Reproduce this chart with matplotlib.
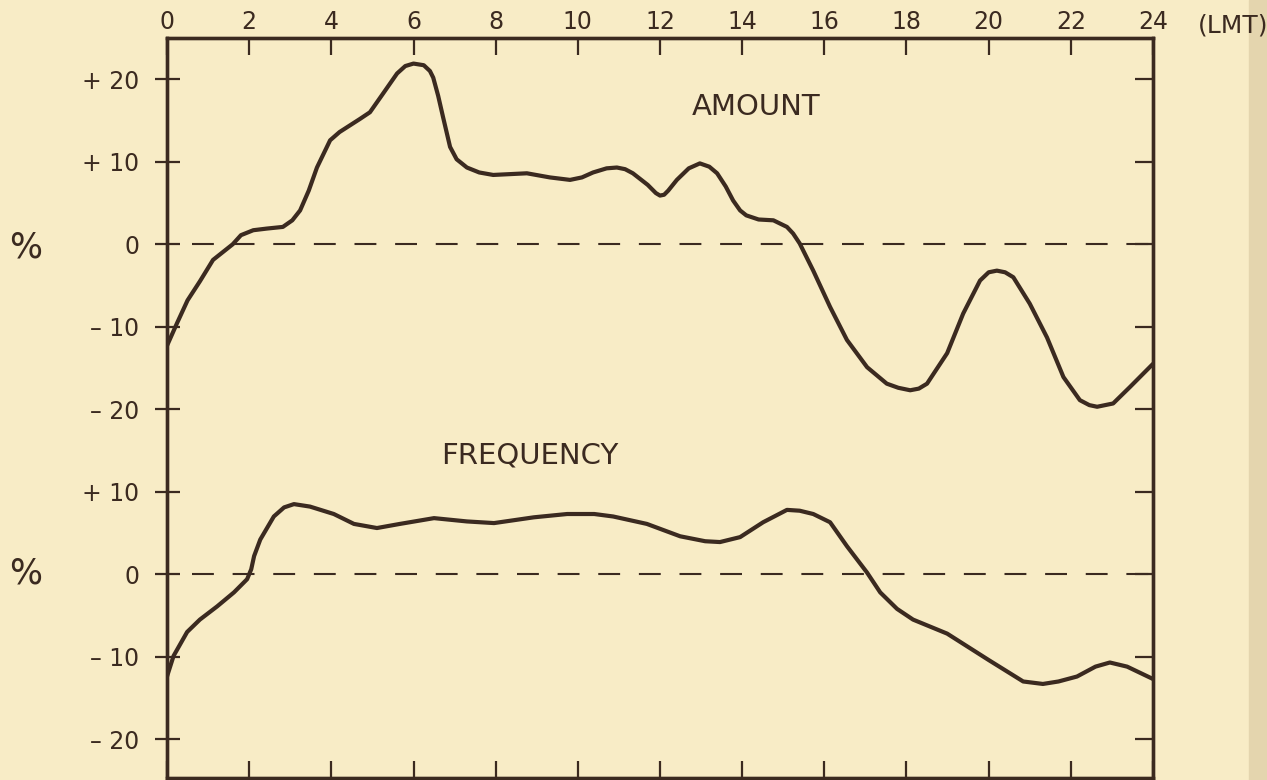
import matplotlib
matplotlib.use('Agg')
import matplotlib.pyplot as plt
from matplotlib.patches import Rectangle

# diurnal variation (hour LMT, % departure)
amount_hours = [0.0, 0.25, 0.5, 0.8, 1.12, 1.6, 1.8, 2.1, 2.43, 2.82, 3.05,
                3.24, 3.45, 3.65, 3.97, 4.2, 4.45, 4.7, 4.94, 5.25, 5.6, 5.8,
                6.0, 6.25, 6.4, 6.48, 6.6, 6.72, 6.89, 7.05, 7.3, 7.6, 7.94,
                8.35, 8.76, 9.32, 9.81, 10.1, 10.37, 10.7, 10.95, 11.15, 11.34,
                11.7, 11.9, 12.0, 12.1, 12.2, 12.41, 12.7, 12.97, 13.2, 13.39,
                13.6, 13.78, 13.95, 14.1, 14.4, 14.76, 15.09, 15.24, 15.4,
                15.73, 16.14, 16.55, 17.04, 17.52, 17.8, 18.09, 18.3, 18.5,
                18.99, 19.38, 19.79, 20.0, 20.2, 20.4, 20.6, 21.0, 21.42,
                21.82, 22.22, 22.45, 22.64, 23.03, 23.44, 24.0]
amount_pct = [-12.3, -9.5, -6.8, -4.5, -1.9, 0.0, 1.1, 1.7, 1.9, 2.1, 2.9,
              4.1, 6.5, 9.3, 12.6, 13.6, 14.4, 15.2, 16.0, 18.2, 20.7, 21.6,
              21.9, 21.7, 21.0, 20.2, 18.0, 15.4, 11.8, 10.3, 9.3, 8.7, 8.4,
              8.5, 8.6, 8.1, 7.8, 8.1, 8.7, 9.2, 9.3, 9.1, 8.6,
              7.2, 6.2, 5.9, 6.0, 6.5, 7.8, 9.2, 9.8, 9.4, 8.6,
              7.0, 5.3, 4.1, 3.5, 3.0, 2.9, 2.1, 1.3, 0.1,
              -3.2, -7.6, -11.6, -14.9, -16.9, -17.4, -17.7, -17.5, -16.9,
              -13.2, -8.4, -4.4, -3.4, -3.2, -3.4, -4.0, -7.2, -11.3,
              -16.1, -18.9, -19.5, -19.7, -19.3, -17.3, -14.5]

freq_hours = [0.0, 0.16, 0.49, 0.8, 1.22, 1.63, 1.95, 2.05, 2.12, 2.27, 2.6,
              2.85, 3.09, 3.48, 4.06, 4.55, 5.11, 5.67, 6.5, 7.3, 7.96, 8.93,
              9.74, 10.4, 10.86, 11.68, 12.49, 13.1, 13.46, 13.95, 14.51,
              15.09, 15.4, 15.73, 16.14, 16.55, 17.04, 17.36, 17.77, 18.16,
              18.99, 20.0, 20.84, 21.32, 21.7, 22.15, 22.6, 22.95, 23.37, 24.0]
freq_pct = [-12.4, -9.9, -7.0, -5.5, -3.9, -2.2, -0.6, 0.6, 2.2, 4.2, 7.0,
            8.1, 8.5, 8.2, 7.3, 6.1, 5.6, 6.1, 6.8, 6.4, 6.2, 6.9,
            7.3, 7.3, 7.0, 6.1, 4.6, 4.0, 3.9, 4.5, 6.3,
            7.8, 7.7, 7.3, 6.3, 3.4, 0.2, -2.2, -4.2, -5.5,
            -7.2, -10.4, -13.0, -13.3, -13.0, -12.4, -11.2, -10.7, -11.2, -12.7]

hour_ticks = list(range(0, 25, 2))
upper_ticks = [20, 10, 0, -10, -20]
upper_labels = ['+20', '+10', '0', '-10', '-20']
lower_ticks = [10, 0, -10, -20]
lower_labels = ['+10', '0', '-10', '-20']

LOWER_SHIFT = -40   # frequency panel drawn 40 units below amount panel
INK = '#3b2a20'
PAPER = '#f8ecc6'


def main():
    plt.rc('font', family='DejaVu Sans', size=17)

    fig = plt.figure(figsize=(12.67, 7.8), dpi=100, facecolor=PAPER)
    fig.patches.append(Rectangle((1249 / 1267, 0), 18 / 1267, 1,
                                 transform=fig.transFigure,
                                 color='#e4d5ae', zorder=0))
    ax = fig.add_axes([167 / 1267, 2 / 780, 986 / 1267, 740 / 780])
    ax.set_facecolor('none')

    line_kw = dict(color=INK, lw=3.0, solid_capstyle='round',
                   solid_joinstyle='round')
    ax.plot(amount_hours, amount_pct, **line_kw)
    ax.plot(freq_hours, [v + LOWER_SHIFT for v in freq_pct], **line_kw)

    for base in (0, LOWER_SHIFT):
        ax.plot([0.6, 24], [base, base], color=INK, lw=1.5,
                linestyle=(0, (10.5, 9)))

    ax.set_xlim(0, 24)
    ax.set_ylim(-64.7, 25)

    yt = upper_ticks + [t + LOWER_SHIFT for t in lower_ticks]
    yl = upper_labels + lower_labels
    yl = [s.replace('-', '\u2013 ').replace('+', '+ ') for s in yl]
    ax.set_yticks(yt)
    ax.set_yticklabels(yl, color=INK)
    ax.tick_params(axis='y', direction='inout', length=18, width=1.6,
                   color=INK, pad=11)

    ax.set_xticks(hour_ticks)
    ax.set_xticklabels([str(h) for h in hour_ticks], color=INK)
    ax.tick_params(axis='x', direction='in', length=12, width=1.6,
                   color=INK, top=True, labeltop=True, bottom=True,
                   labelbottom=False, pad=3)

    right = ax.twinx()
    right.set_ylim(ax.get_ylim())
    right.set_yticks(yt)
    right.set_yticklabels([])
    right.tick_params(axis='y', direction='in', length=13, width=1.6,
                      color=INK)

    for a in (ax, right):
        for sp in a.spines.values():
            sp.set_color(INK)
            sp.set_linewidth(2.4)

    ax.text(14.34, 16.6, 'AMOUNT', color=INK, ha='center', va='center',
            fontsize=21)
    ax.text(8.84, -25.6, 'FREQUENCY', color=INK, ha='center', va='center',
            fontsize=21)
    fig.text(26 / 1267, 1 - 247 / 780, '%', color=INK, ha='center',
             va='center', fontsize=25)
    fig.text(26 / 1267, 1 - 573 / 780, '%', color=INK, ha='center',
             va='center', fontsize=25)
    fig.text(1198 / 1267, 1 - 26 / 780, '(LMT)', color=INK, ha='left',
             va='center', fontsize=18)

    fig.savefig('out.png', dpi=100, facecolor=PAPER)


if __name__ == '__main__':
    main()
